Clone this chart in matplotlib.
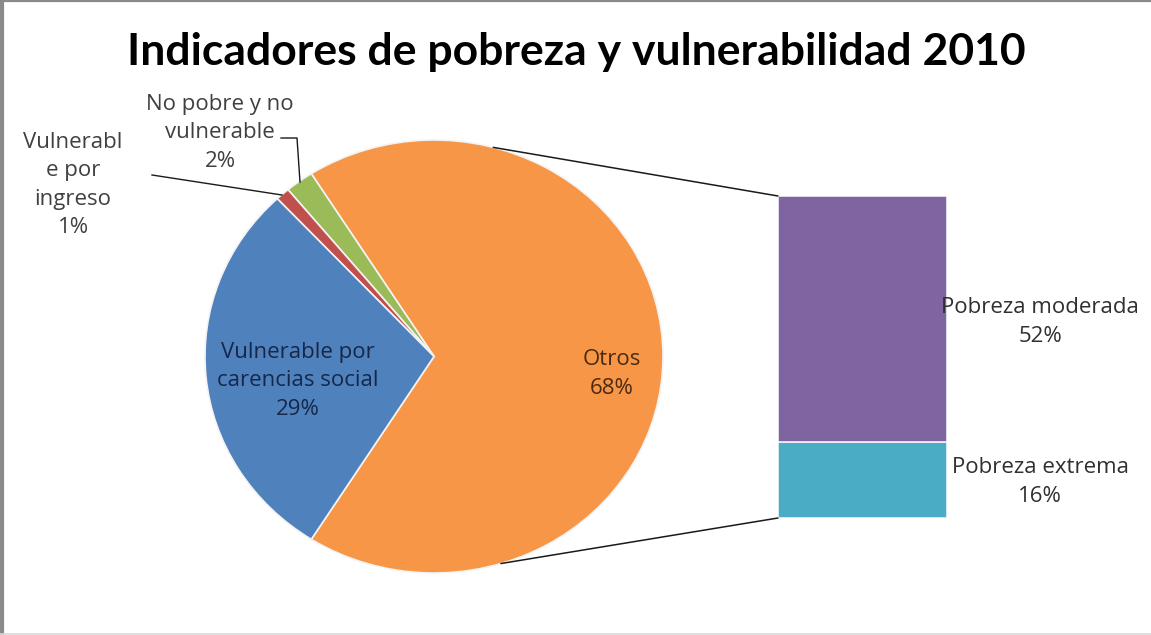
import matplotlib
matplotlib.use("Agg")
import matplotlib.pyplot as plt
from matplotlib.patches import ConnectionPatch
from matplotlib.lines import Line2D
import numpy as np

# ---- data ----
title = "Indicadores de pobreza y vulnerabilidad 2010"
pie_labels = ["Otros", "No pobre y no\nvulnerable", "Vulnerabl\ne por\ningreso", "Vulnerable por\ncarencias social"]
pie_values = [68, 2, 1, 29]
pie_colors = ["#F79646", "#9BBB59", "#C0504D", "#4F81BD"]
bar_labels = ["Pobreza extrema", "Pobreza moderada"]
bar_values = [16, 52]
bar_colors = ["#4BACC6", "#8064A2"]

W, H = 1151, 635
fig = plt.figure(figsize=(W / 100, H / 100), dpi=100)
fig.patch.set_facecolor("white")

def fx(x):
    return x / W

def fy(y):
    return 1 - y / H

FONT = ["Open Sans", "DejaVu Sans"]

# title
fig.text(fx(576), fy(52), title, ha="center", va="center",
         fontsize=32, fontweight="bold", family=["Lato", "DejaVu Sans"], color="black")

# pie axes (slightly elliptical as in the reference)
pl, pr, pt, pb = 205, 663, 140, 573
ax_pie = fig.add_axes([fx(pl), fy(pb), (pr - pl) / W, (pb - pt) / H])
total = sum(pie_values)
start = -pie_values[0] / total * 180.0
wedges, _ = ax_pie.pie(pie_values, colors=pie_colors, startangle=start, counterclock=True,
                       radius=1, wedgeprops=dict(edgecolor="#f3f3f3", linewidth=1.2))
ax_pie.set_aspect("auto")
ax_pie.set_xlim(-1, 1)
ax_pie.set_ylim(-1, 1)
ax_pie.axis("off")

# bar axes
bl, br, bt, bb = 778, 947, 196, 518
ax_bar = fig.add_axes([fx(bl), fy(bb), (br - bl) / W, (bb - bt) / H])
bottom = 0
for v, c in zip(bar_values, bar_colors):
    ax_bar.bar(0.5, v, width=1.0, bottom=bottom, color=c, edgecolor="#eef3f8", linewidth=1.2)
    bottom += v
ax_bar.set_xlim(0, 1)
ax_bar.set_ylim(0, sum(bar_values))
ax_bar.axis("off")

# connector lines
for ang, yb in [(75, sum(bar_values)), (-73, 0)]:
    a = np.deg2rad(ang)
    con = ConnectionPatch(xyA=(np.cos(a), np.sin(a)), coordsA=ax_pie.transData,
                          xyB=(0, yb), coordsB=ax_bar.transData,
                          color="#1a1a1a", linewidth=1.1)
    fig.add_artist(con)

# data labels
lab_fs = 16
def label(x, y, txt, color):
    fig.text(fx(x), fy(y), txt, ha="center", va="center", fontsize=lab_fs,
             family=FONT, color=color, linespacing=1.45)

label(612, 374, f"{pie_labels[0]}\n{pie_values[0]}%", "#4a2a12")
label(298, 381, f"{pie_labels[3]}\n{pie_values[3]}%", "#16284a")
label(220, 133, f"{pie_labels[1]}\n{pie_values[1]}%", "#404040")
label(73, 185, f"{pie_labels[2]}\n{pie_values[2]}%", "#404040")
label(1040, 322, f"{bar_labels[1]}\n{bar_values[1]}%", "#303030")
label(1040, 482, f"{bar_labels[0]}\n{bar_values[0]}%", "#303030")

# leader lines
fig.add_artist(Line2D([fx(281), fx(297), fx(300)], [fy(138), fy(138), fy(182)],
                      color="#1a1a1a", linewidth=1.0))
fig.add_artist(Line2D([fx(152), fx(282)], [fy(175), fy(195)],
                      color="#1a1a1a", linewidth=1.0))

# chart frame
fig.add_artist(Line2D([0, 1], [fy(0.8), fy(0.8)], color="#8a8a8a", linewidth=1.6))
fig.add_artist(Line2D([fx(1.5), fx(1.5)], [0, 1], color="#8a8a8a", linewidth=3))
fig.add_artist(Line2D([0, 1], [fy(633.5), fy(633.5)], color="#d9d9d9", linewidth=1.2))

fig.savefig("out.png", dpi=100)
